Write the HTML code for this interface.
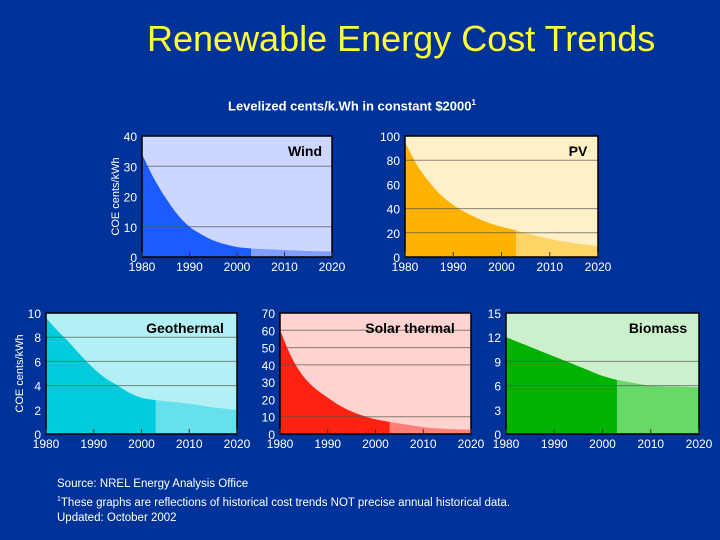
<!DOCTYPE html>
<html><head><meta charset="utf-8"><style>
body{margin:0;background:#003399;}
#wrap{position:relative;width:720px;height:540px;background:#003399;overflow:hidden;font-family:"Liberation Sans",sans-serif;}
.t{position:absolute;color:#fff;white-space:nowrap;}
</style></head><body>
<div id="wrap">
<div class="t" style="left:147px;top:18px;font-size:36px;color:#ffff33;">Renewable Energy Cost Trends</div>
<div class="t" style="left:228px;top:98px;font-size:13px;font-weight:bold;">Levelized cents/k.Wh in constant $2000<sup style="font-size:8px">1</sup></div>
<div class="t" style="left:57px;top:477px;font-size:11.5px;line-height:15px;">Source: NREL Energy Analysis Office<br><sup style="font-size:7px">1</sup>These graphs are reflections of historical cost trends NOT precise annual historical data.<br>Updated: October 2002</div>
<svg id="svg" width="720" height="540" style="position:absolute;left:0;top:0"></svg>
</div>
<script>
const years=[1980,1982.5,1985,1987.5,1990,1992.5,1995,1997.5,2000,2003,2010,2015,2020];
const windVals=[34,26,19.5,14,10,7.5,5.5,4.2,3.3,2.8,2.3,2.0,1.8];
const pvVals=[95,76,62,51,43,37,32,28,25,22,15,11.5,9];
const geoVals=[9.6,8.5,7.5,6.4,5.4,4.6,4.0,3.4,3.0,2.8,2.5,2.2,2.0];
const solarVals=[60,44,33,26,21,16.5,13,10.5,8.5,7,4,3,2.5];
const bioVals=[12,11.4,10.8,10.2,9.6,9.0,8.4,7.8,7.2,6.7,6.0,5.9,5.8];
const windTicks=[0,10,20,30,40], pvTicks=[0,20,40,60,80,100], geoTicks=[0,2,4,6,8,10], solarTicks=[0,10,20,30,40,50,60,70], bioTicks=[0,3,6,9,12,15];
const xTicks=[1980,1990,2000,2010,2020];
const charts=[
 {name:'wind',label:'Wind',vals:windVals,ticks:windTicks,grid:[10,30],max:40,x0:142,x1:332,y0:136,y1:257,bg:'#ccd6ff',dark:'#1a5cff',light:'#7f9eff',ylab:true,lx:305},
 {name:'pv',label:'PV',vals:pvVals,ticks:pvTicks,grid:[20,40,80],max:100,x0:405,x1:598,y0:136,y1:257,bg:'#fff0c8',dark:'#ffb300',light:'#ffd466',lx:578},
 {name:'geothermal',label:'Geothermal',vals:geoVals,ticks:geoTicks,grid:[4,6,8],max:10,x0:46,x1:237,y0:313,y1:434,bg:'#b3f0f5',dark:'#00ccdd',light:'#66e0ea',ylab:true,lx:185},
 {name:'solar-thermal',label:'Solar thermal',vals:solarVals,ticks:solarTicks,grid:[10,40,50,60],max:70,x0:280,x1:471,y0:313,y1:434,bg:'#ffd3d0',dark:'#ff2211',light:'#ff8077',lx:410},
 {name:'biomass',label:'Biomass',vals:bioVals,ticks:bioTicks,grid:[6,9],max:15,x0:506,x1:699,y0:313,y1:434,bg:'#ccf0cc',dark:'#00b300',light:'#66d966',lx:658}
];
const svg=document.getElementById('svg');const NS='http://www.w3.org/2000/svg';
function mk(t,a,p){const e=document.createElementNS(NS,t);for(const k in a)e.setAttribute(k,a[k]);(p||svg).appendChild(e);return e;}
function pathFor(pts){let d='M'+pts[0][0]+','+pts[0][1];for(let i=0;i<pts.length-1;i++){const p0=pts[i-1]||pts[i],p1=pts[i],p2=pts[i+1],p3=pts[i+2]||p2;
 d+=' C'+(p1[0]+(p2[0]-p0[0])/6)+','+(p1[1]+(p2[1]-p0[1])/6)+' '+(p2[0]-(p3[0]-p1[0])/6)+','+(p2[1]-(p3[1]-p1[1])/6)+' '+p2[0]+','+p2[1];}return d;}
charts.forEach(c=>{
 const g=mk('g',{});
 
 
 const X=v=>c.x0+(v-1980)/40*(c.x1-c.x0), Y=v=>c.y1-v/c.max*(c.y1-c.y0);
 const bg=mk('rect',{x:c.x0,y:c.y0,width:c.x1-c.x0,height:c.y1-c.y0,fill:c.bg},g);
 
 
 const pts=years.map((y,i)=>[X(y),Y(c.vals[i])]);
 const k=years.indexOf(2003);
 const a=mk('path',{d:pathFor(pts.slice(0,k+1))+' L'+X(2003)+','+c.y1+' L'+c.x0+','+c.y1+'Z',fill:c.dark},g);
 
 
 const b=mk('path',{d:pathFor(pts.slice(k))+' L'+c.x1+','+c.y1+' L'+X(2003)+','+c.y1+'Z',fill:c.light},g);
 
 
 c.grid.forEach(v=>mk('line',{x1:c.x0,x2:c.x1,y1:Y(v),y2:Y(v),stroke:'#555',"stroke-width":1,opacity:0.7},g));
 mk('rect',{x:c.x0,y:c.y0,width:c.x1-c.x0,height:c.y1-c.y0,fill:'none',stroke:'#000',"stroke-width":1.5},g);
 c.ticks.forEach(v=>{const t=mk('text',{x:c.x0-5,y:Y(v)+5,"text-anchor":'end',fill:'#fff',"font-size":12,"font-family":'Liberation Sans'},g);t.textContent=v;});
 xTicks.forEach(v=>{mk('line',{x1:X(v),x2:X(v),y1:c.y1,y2:c.y1-5,stroke:'#333'},g);
  const t=mk('text',{x:X(v),y:c.y1+14,"text-anchor":'middle',fill:'#fff',"font-size":12,"font-family":'Liberation Sans'},g);t.textContent=v;});
 const l=mk('text',{x:c.lx,y:c.y0+20,"text-anchor":'middle',fill:'#000',"font-size":14,"font-weight":'bold',"font-family":'Liberation Sans'},g);l.textContent=c.label;
 
 
 if(c.ylab){const yl=mk('text',{x:0,y:0,transform:'translate('+(c.x0-23)+','+(c.y0+c.y1)/2+') rotate(-90)',"text-anchor":'middle',fill:'#fff',"font-size":11,"font-family":'Liberation Sans'},g);yl.textContent='COE cents/kWh';
  
  }
});
</script>
</body></html>
